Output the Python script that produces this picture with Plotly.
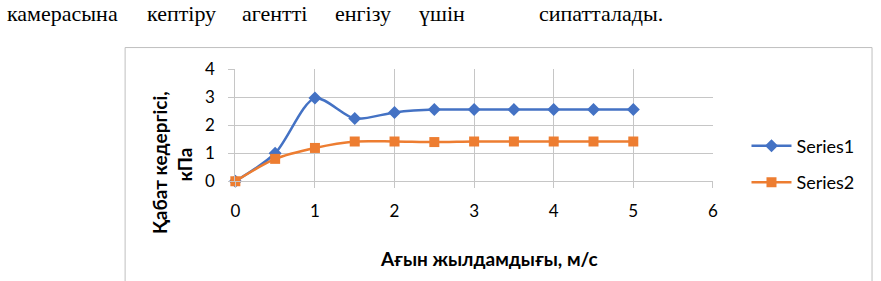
import plotly.graph_objects as go

x_vals = [0, 0.5, 1, 1.5, 2, 2.5, 3, 3.5, 4, 4.5, 5]
series1 = [0, 1.0, 2.97, 2.24, 2.46, 2.56, 2.56, 2.56, 2.56, 2.56, 2.56]
series2 = [0, 0.8, 1.19, 1.42, 1.42, 1.40, 1.42, 1.42, 1.42, 1.42, 1.42]
x_ticks = [0, 1, 2, 3, 4, 5, 6]
y_ticks = [0, 1, 2, 3, 4]
top_words = ["камерасына", "кептіру", "агентті", "енгізу", "үшін", "сипатталады."]
top_word_x = [0, 142, 238, 332, 417, 538]

W, H = 881, 281
GRID = "#c6c6c6"
fig = go.Figure()
fig.add_trace(go.Scatter(x=x_vals, y=series1, name="Series1", mode="lines+markers",
                         line=dict(color="#4472C4", width=2.5, shape="spline", smoothing=0.8),
                         marker=dict(symbol="diamond", size=10, color="#4472C4"),
                         cliponaxis=False, legendgroup="a"))
fig.add_trace(go.Scatter(x=x_vals, y=series2, name="Series2", mode="lines+markers",
                         line=dict(color="#ED7D31", width=2.5, shape="spline", smoothing=0.8),
                         marker=dict(symbol="square", size=10, color="#ED7D31"),
                         cliponaxis=False, legendgroup="b"))

tick_font = dict(family="Lato", size=17, color="#000")
fig.update_layout(
    width=W, height=H, margin=dict(l=0, r=0, t=0, b=0),
    paper_bgcolor="white", plot_bgcolor="white",
    showlegend=True,
    legend=dict(x=750 / W, y=1 - 126 / H, xanchor="left", yanchor="top",
                font=dict(family="Lato", size=18, color="#000"),
                tracegroupgap=10, itemwidth=40, bgcolor="rgba(0,0,0,0)"),
    xaxis=dict(domain=[233 / W, 716 / W], range=[0, 6], tickvals=x_ticks,
               showgrid=True, gridcolor=GRID, gridwidth=1, zeroline=False,
               showline=True, linecolor=GRID, ticks="outside", ticklen=6, tickcolor=GRID,
               tickfont=tick_font, ticklabelstandoff=8),
    yaxis=dict(domain=[(H - 184) / H, (H - 63) / H], range=[0, 4], tickvals=y_ticks,
               showgrid=True, gridcolor=GRID, gridwidth=1, zeroline=False,
               showline=True, linecolor=GRID, ticks="outside", ticklen=6, tickcolor=GRID,
               tickfont=tick_font, ticklabelstandoff=10),
    shapes=[dict(type="rect", xref="paper", yref="paper",
                 x0=121.5 / W, x1=877 / W, y0=-0.05, y1=1 - 39.5 / H,
                 line=dict(color="#bfbfbf", width=1))],
)

annotations = [
    dict(text="<b>Қабат кедергісі,</b>", x=157 / W, y=1 - 164 / H, textangle=-90,
         font=dict(family="Lato", size=19, color="#000")),
    dict(text="<b>кПа</b>", x=182 / W, y=1 - 166 / H, textangle=-90,
         font=dict(family="Lato", size=19, color="#000")),
    dict(text="<b>Ағын жылдамдығы, м/с</b>", x=490 / W, y=1 - 267 / H,
         font=dict(family="Lato", size=19, color="#000")),
]
for w, px in zip(top_words, top_word_x):
    annotations.append(dict(text=w, x=px / W, y=1 - 3 / H, xanchor="left", yanchor="middle",
                            font=dict(family="Liberation Serif", size=22, color="#000")))
for a in annotations:
    a.setdefault("xref", "paper")
    a.setdefault("yref", "paper")
    a.setdefault("showarrow", False)
    a.setdefault("xanchor", "center")
    a.setdefault("yanchor", "middle")
fig.update_layout(annotations=annotations)

fig.write_html("out.html", config={"displayModeBar": False},
               post_script="document.body.style.margin='0';document.body.style.overflow='hidden';")
